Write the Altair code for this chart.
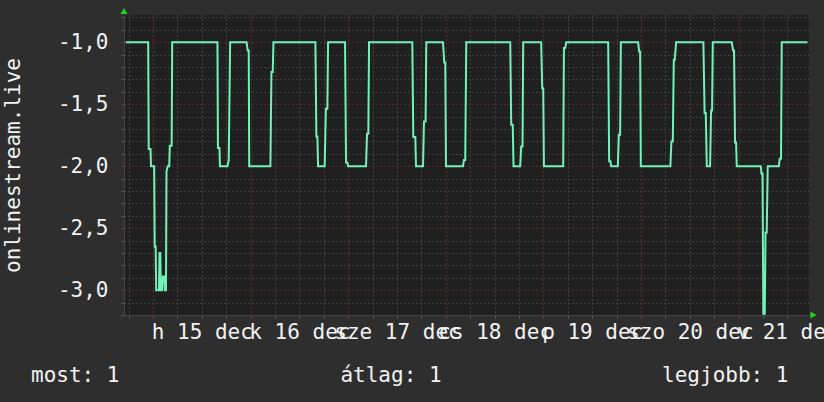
import altair as alt
import pandas as pd

# Stream status samples: hours since 15 Dec 00:00 and the recorded value
hours = [
    -6.7, -1.18, -1.06, -0.61, -0.49, 0.29, 0.42, 0.66, 0.79, 1.47, 1.60, 1.79,
    1.92, 2.28, 2.41, 2.83, 2.95, 3.19, 3.32, 3.64, 4.0, 4.13, 4.59, 4.72,
    15.85, 15.97, 16.34, 16.46, 18.30, 18.62, 18.97,
    23.0, 23.29, 23.54, 23.66, 28.87, 29.12, 29.44, 29.61,
    39.93, 40.17, 40.42, 40.59, 42.21, 42.51, 42.87, 43.05,
    47.22, 47.47, 47.79, 47.96, 52.38, 52.63, 52.95, 53.12,
    63.76, 64.0, 64.5, 64.67, 66.39, 66.63, 67.03, 67.2,
    71.3, 71.62, 71.87, 72.04, 76.22, 76.46, 76.78, 77.03,
    87.84, 88.08, 88.45, 88.65, 90.29, 90.54, 90.86, 91.03,
    95.45, 95.7, 95.95, 96.12, 100.86, 101.04, 101.35, 101.6,
    111.92, 112.16, 112.48, 112.65, 114.3, 114.54, 114.86, 115.04,
    119.29, 119.53, 119.78, 119.95, 127.22, 127.47, 127.81, 128.06, 128.3, 128.62,
    135.33, 135.63, 135.92, 136.17, 136.98, 137.22, 137.47, 137.64,
    142.31, 142.63, 142.87, 143.12, 143.37, 143.54,
    149.44, 149.63, 149.88, 150.07, 150.42, 150.61, 150.9, 151.15,
    153.87, 154.11, 154.42, 154.6, 160.93,
]
values = [
    -1.0, -1.0, -1.861, -1.861, -2.0, -2.0, -2.647, -2.647, -3.0, -3.0, -2.70, -2.70,
    -3.0, -3.0, -2.89, -2.89, -3.0, -3.0, -2.04, -2.0, -2.0, -1.835, -1.835, -1.0,
    -1.0, -1.853, -1.853, -2.0, -2.0, -1.95, -1.0,
    -1.0, -1.066, -1.066, -2.0, -2.0, -1.24, -1.24, -1.0,
    -1.0, -1.76, -1.76, -2.0, -2.0, -1.536, -1.536, -1.0,
    -1.0, -1.97, -1.97, -2.0, -2.0, -1.738, -1.738, -1.0,
    -1.0, -1.765, -1.765, -2.0, -2.0, -1.64, -1.64, -1.0,
    -1.0, -1.163, -1.163, -2.0, -2.0, -1.95, -1.95, -1.0,
    -1.0, -1.665, -1.665, -2.0, -2.0, -1.84, -1.84, -1.0,
    -1.0, -1.37, -1.37, -2.0, -2.0, -1.047, -1.047, -1.0,
    -1.0, -1.96, -1.96, -2.0, -2.0, -1.746, -1.746, -1.0,
    -1.0, -1.074, -1.074, -2.0, -2.0, -1.80, -1.80, -1.141, -1.141, -1.0,
    -1.0, -1.571, -1.571, -2.0, -2.0, -1.55, -1.55, -1.0,
    -1.0, -1.066, -1.066, -1.808, -1.808, -2.0,
    -2.0, -2.06, -2.06, -3.19, -3.19, -2.534, -2.534, -2.0,
    -2.0, -1.94, -1.94, -1.0, -1.0,
]

# Day labels, one per day, placed at noon
day_labels = ["h 15 dec", "k 16 dec", "sze 17 dec", "cs 18 dec", "p 19 dec", "szo 20 dec", "v 21 dec"]
x_grid_hours = [-6, 0, 6, 12, 18, 24, 30, 36, 42, 48, 54, 60, 66, 72, 78, 84, 90, 96,
                102, 108, 114, 120, 126, 132, 138, 144, 150, 156]
y_grid_values = [-3.2, -3.1, -3.0, -2.9, -2.8, -2.7, -2.6, -2.5, -2.4, -2.3, -2.2, -2.1,
                 -2.0, -1.9, -1.8, -1.7, -1.6, -1.5, -1.4, -1.3, -1.2, -1.1, -1.0, -0.9, -0.8]

legend_items = ["most: 1", "átlag: 1", "legjobb: 1"]

X_DOMAIN = [-7.13, 161.3]
Y_DOMAIN = [-3.2, -0.78]

FONT = "DejaVu Sans Mono"
TEXT = "#f2f2f2"
MAJOR = "#8a3a3a"
MINOR = "#5e5e5e"
LINE = "#72f2b9"
ARROW = "#1fd41f"

df = pd.DataFrame({"h": hours, "v": values})

x_scale = alt.Scale(domain=X_DOMAIN, nice=False, zero=False)
y_scale = alt.Scale(domain=Y_DOMAIN, nice=False, zero=False)

label_array = "[" + ",".join("'" + s + "'" for s in day_labels) + "]"
x_label_expr = f"datum.value % 24 == 12 ? {label_array}[floor(datum.value / 24)] : ''"
y_major_test = "abs(datum.value * 2 - round(datum.value * 2)) < 0.001"
y_label_expr = (
    f"{y_major_test} ? (datum.value < 0 ? '-' : '') + "
    "replace(format(abs(datum.value), '.1f'), '.', ',') : ''"
)

x_axis = alt.Axis(
    values=x_grid_hours,
    title=None,
    grid=True,
    gridColor={"condition": {"test": "datum.value % 24 == 0", "value": MAJOR}, "value": MINOR},
    gridDash=[1, 3],
    gridWidth=1,
    ticks=True,
    tickSize=3,
    tickColor={"condition": {"test": "datum.value % 24 == 0", "value": MAJOR}, "value": MINOR},
    domain=True,
    domainColor="#454545",
    labelExpr=x_label_expr,
    labelOverlap=False,
    labelBound=False,
    labelFlush=False,
    labelFont=FONT,
    labelFontSize=21,
    labelColor=TEXT,
    labelBaseline="alphabetic",
    labelPadding=20,
)

y_axis = alt.Axis(
    values=y_grid_values,
    title="onlinestream.live",
    titleFont=FONT,
    titleFontSize=21,
    titleFontWeight="normal",
    titleColor=TEXT,
    titleX=-111,
    titleY=150,
    titleAngle=270,
    titleAlign="center",
    titleBaseline="middle",
    grid=True,
    gridColor={"condition": {"test": y_major_test, "value": MAJOR}, "value": MINOR},
    gridDash=[1, 3],
    gridWidth=1,
    ticks=True,
    tickSize=3,
    tickColor={"condition": {"test": y_major_test, "value": MAJOR}, "value": MINOR},
    domain=True,
    domainColor="#454545",
    labelExpr=y_label_expr,
    labelOverlap=False,
    labelBound=False,
    labelFlush=False,
    labelFont=FONT,
    labelFontSize=21,
    labelColor=TEXT,
    labelPadding=13,
)

x_enc = dict(scale=x_scale, axis=x_axis)
y_enc = dict(scale=y_scale, axis=y_axis)

line = alt.Chart(df).mark_line(color=LINE, strokeWidth=2, clip=True).encode(
    x=alt.X("h:Q", **x_enc),
    y=alt.Y("v:Q", **y_enc),
)

# Axis direction arrows at the top of the y axis and the end of the x axis
arrow_up = alt.Chart().mark_point(
    shape="triangle-up", filled=True, color=ARROW, size=50, opacity=1, yOffset=-4
).encode(
    x=alt.X(datum=X_DOMAIN[0], type="quantitative", **x_enc),
    y=alt.Y(datum=Y_DOMAIN[1], type="quantitative", **y_enc),
)
arrow_right = alt.Chart().mark_point(
    shape="triangle-right", filled=True, color=ARROW, size=50, opacity=1, xOffset=4.5
).encode(
    x=alt.X(datum=X_DOMAIN[1], type="quantitative", **x_enc),
    y=alt.Y(datum=Y_DOMAIN[0], type="quantitative", **y_enc),
)

# Summary line under the graph
legend_style = dict(font=FONT, fontSize=21, color=TEXT, baseline="alphabetic")
leg_left = alt.Chart().mark_text(align="left", **legend_style).encode(
    x=alt.value(-93), y=alt.value(367), text=alt.datum(legend_items[0])
)
leg_mid = alt.Chart().mark_text(align="center", **legend_style).encode(
    x=alt.value(267), y=alt.value(367), text=alt.datum(legend_items[1])
)
leg_right = alt.Chart().mark_text(align="right", **legend_style).encode(
    x=alt.value(664.5), y=alt.value(367), text=alt.datum(legend_items[2])
)

chart = (
    alt.layer(line, arrow_up, arrow_right, leg_left, leg_mid, leg_right)
    .properties(
        width=685,
        height=300,
        autosize="none",
        padding={"left": 124, "top": 15, "right": 15, "bottom": 87},
        background="#2e2e2e",
    )
    .configure_view(fill="#202020", stroke=None)
)

chart.save("out.html", embed_options={"renderer": "svg", "actions": False})
